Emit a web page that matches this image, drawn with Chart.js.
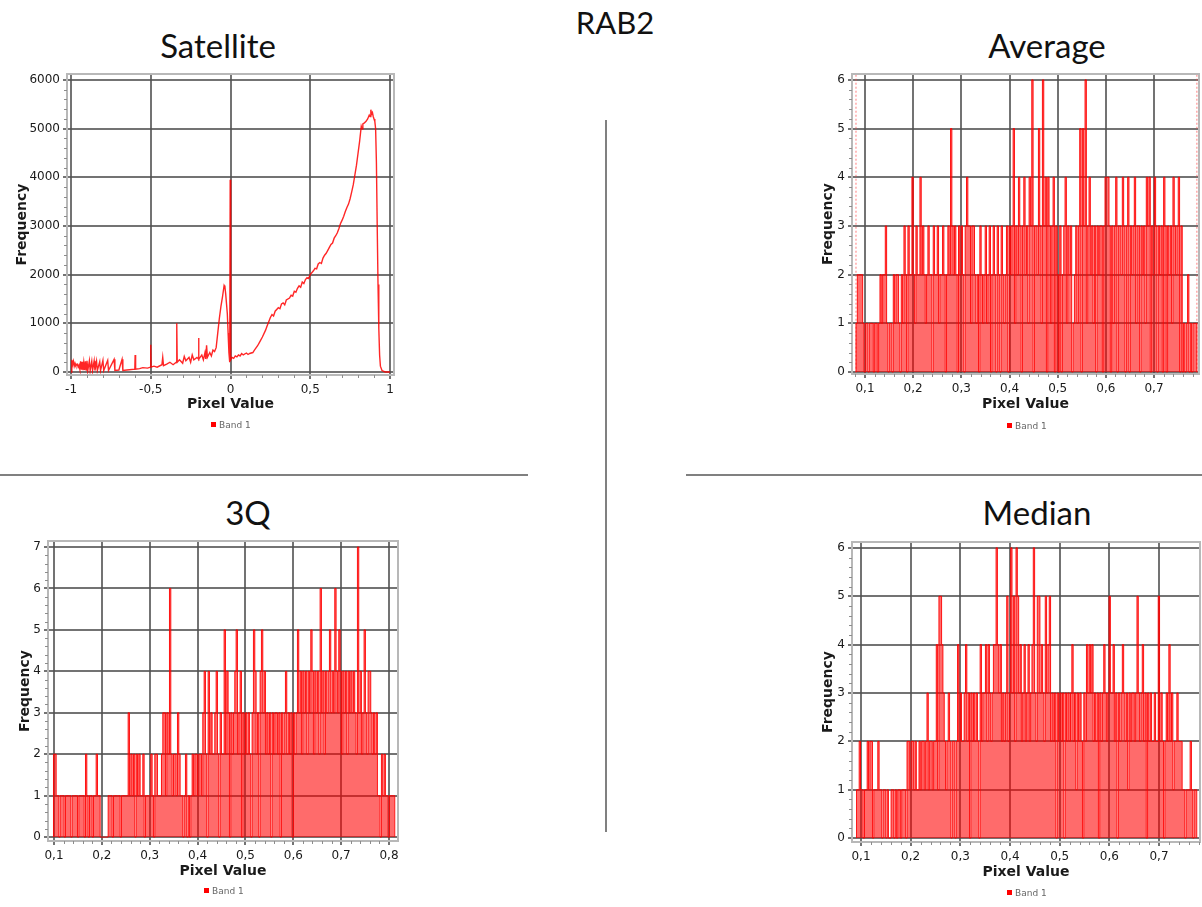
<!DOCTYPE html>
<html>
<head>
<meta charset="utf-8">
<title>RAB2</title>
<script src="https://cdn.jsdelivr.net/npm/chart.js@4.4.1/dist/chart.umd.min.js"></script>
<style>
  body { margin: 0; background: #fff; }
  #page { position: relative; width: 1202px; height: 907px; overflow: hidden; }
  .title { position: absolute; transform: translate(-50%, -50%); font-family: Lato, "Open Sans", sans-serif; font-size: 33px; line-height: 1; color: #111; white-space: nowrap; }
  canvas { position: absolute; }
  .sep { position: absolute; background: #808080; }
  .legend { position: absolute; font-family: "DejaVu Sans", sans-serif; font-size: 9px; color: #666; line-height: 10px; white-space: nowrap; }
  .legend i { display: inline-block; width: 5px; height: 5px; background: #f00; margin-right: 3px; vertical-align: 1px; }
</style>
</head>
<body>
<div id="page">
  <div class="title" style="left:615px;top:22px;font-size:31px">RAB2</div>
  <div class="title" style="left:218px;top:45px">Satellite</div>
  <div class="title" style="left:1047px;top:45px">Average</div>
  <div class="title" style="left:248px;top:512px">3Q</div>
  <div class="title" style="left:1037px;top:512px">Median</div>

  <div class="sep" style="left:605px;top:120px;width:2px;height:712px"></div>
  <div class="sep" style="left:0;top:474px;width:528px;height:2px"></div>
  <div class="sep" style="left:686px;top:474px;width:516px;height:2px"></div>

  <canvas id="satellite" width="400" height="380" style="left:0;top:60px"></canvas>
  <canvas id="average" width="412" height="380" style="left:790px;top:60px"></canvas>
  <canvas id="q3" width="410" height="387" style="left:0;top:520px"></canvas>
  <canvas id="median" width="412" height="387" style="left:790px;top:520px"></canvas>

  <div class="legend" style="left:211px;top:420px"><i></i>Band 1</div>
  <div class="legend" style="left:1007px;top:421px"><i></i>Band 1</div>
  <div class="legend" style="left:204px;top:886px"><i></i>Band 1</div>
  <div class="legend" style="left:1007px;top:888px"><i></i>Band 1</div>
</div>

<script>
// satellite histogram, [pixel value, frequency]
var satCurve = [
  [-1, 0], [-0.995, 250], [-0.99, 150], [-0.985, 220], [-0.98, 120], [-0.975, 180], [-0.97, 130],
  [-0.96, 160], [-0.955, 100], [-0.95, 140], [-0.945, 60], [-0.94, 220], [-0.935, 50], [-0.93, 210],
  [-0.925, 40], [-0.92, 200], [-0.915, 40], [-0.91, 220], [-0.905, 40], [-0.9, 230], [-0.895, 30],
  [-0.885, 230], [-0.88, 30], [-0.87, 220], [-0.865, 30], [-0.855, 230], [-0.85, 30], [-0.84, 220],
  [-0.835, 30], [-0.82, 210], [-0.815, 30], [-0.8, 240], [-0.795, 30], [-0.77, 240], [-0.765, 30],
  [-0.73, 260], [-0.725, 30], [-0.7, 40], [-0.68, 260], [-0.675, 30], [-0.65, 40], [-0.6, 60],
  [-0.598, 350], [-0.595, 60], [-0.57, 70], [-0.55, 90], [-0.52, 80], [-0.502, 100], [-0.5, 560],
  [-0.498, 100], [-0.48, 120], [-0.46, 100], [-0.43, 150], [-0.425, 300], [-0.42, 130], [-0.4, 160],
  [-0.38, 200], [-0.36, 150], [-0.34, 200], [-0.337, 1000], [-0.334, 200], [-0.32, 250], [-0.3, 180],
  [-0.29, 320], [-0.28, 230], [-0.26, 300], [-0.25, 200], [-0.24, 350], [-0.23, 250], [-0.21, 300],
  [-0.202, 270], [-0.2, 700], [-0.198, 260], [-0.18, 350], [-0.17, 250], [-0.16, 400], [-0.155, 270],
  [-0.15, 550], [-0.145, 300], [-0.13, 400], [-0.12, 330], [-0.11, 450], [-0.1, 420], [-0.09, 500],
  [-0.08, 800], [-0.07, 1100], [-0.06, 1350], [-0.05, 1550], [-0.04, 1780], [-0.035, 1750],
  [-0.03, 1600], [-0.02, 1200], [-0.015, 800], [-0.01, 400], [-0.005, 200], [-0.002, 3950],
  [0, 3950], [0.002, 250], [0.01, 300], [0.02, 280], [0.03, 330], [0.04, 310], [0.05, 350],
  [0.06, 330], [0.07, 380], [0.08, 350], [0.1, 390], [0.11, 360], [0.12, 380], [0.14, 400],
  [0.15, 450], [0.17, 540], [0.18, 600], [0.2, 720], [0.22, 860], [0.23, 950], [0.25, 1120],
  [0.26, 1180], [0.27, 1150], [0.28, 1250], [0.3, 1320], [0.31, 1300], [0.32, 1400], [0.33, 1420],
  [0.34, 1380], [0.35, 1480], [0.37, 1520], [0.38, 1580], [0.39, 1560], [0.4, 1660], [0.41, 1640],
  [0.42, 1720], [0.43, 1770], [0.44, 1740], [0.45, 1850], [0.46, 1820], [0.47, 1900], [0.48, 1940],
  [0.49, 1920], [0.5, 2000], [0.52, 2080], [0.53, 2130], [0.54, 2120], [0.55, 2220], [0.56, 2250],
  [0.57, 2230], [0.58, 2340], [0.59, 2400], [0.6, 2440], [0.61, 2500], [0.62, 2560], [0.63, 2620],
  [0.64, 2650], [0.65, 2750], [0.66, 2800], [0.67, 2860], [0.68, 2950], [0.69, 3050], [0.7, 3120],
  [0.71, 3200], [0.72, 3300], [0.73, 3380], [0.74, 3450], [0.75, 3560], [0.76, 3700], [0.77, 3850],
  [0.78, 4050], [0.79, 4250], [0.8, 4500], [0.81, 4750], [0.82, 5050], [0.825, 5000], [0.83, 5100],
  [0.84, 5120], [0.85, 5150], [0.86, 5200], [0.87, 5280], [0.875, 5250], [0.88, 5390], [0.885, 5300],
  [0.89, 5330], [0.895, 5250], [0.9, 5200], [0.905, 5150], [0.91, 5000], [0.915, 4300], [0.92, 3000],
  [0.925, 1800], [0.93, 900], [0.935, 350], [0.94, 120], [0.95, 30], [0.97, 0], [1, 0]
];

// 256-bin histograms, min/max of each band
var avgMin = 0.0813, avgMax = 0.789;
var avgCounts = [
  1,2,2,2,2,1,0,1,1,0,1,1,1,0,1,1,
  0,1,2,1,2,2,3,1,0,1,1,0,2,1,2,2,
  1,0,2,1,3,2,0,3,2,2,4,2,1,3,2,2,
  4,2,3,2,1,2,3,2,2,0,3,2,2,3,1,2,
  2,3,2,0,2,3,2,5,3,2,3,2,0,3,2,3,
  2,0,3,4,3,3,1,3,3,2,1,2,0,3,2,1,
  2,3,1,2,3,0,2,3,2,0,3,2,0,3,2,1,
  2,3,0,3,2,3,5,1,3,2,4,3,0,3,4,2,
  3,1,4,3,6,0,3,3,2,5,3,1,6,3,4,0,
  4,3,1,3,4,0,3,2,0,3,0,2,3,4,1,3,
  2,3,0,1,2,3,1,3,5,0,5,3,6,1,3,4,
  2,3,1,3,0,3,2,3,3,0,3,4,4,4,3,0,
  3,1,3,4,0,3,3,2,4,3,0,3,4,0,3,2,
  3,4,1,3,3,0,3,2,3,1,4,3,4,0,3,2,
  4,3,0,3,2,3,0,4,3,0,3,2,3,1,4,3,
  2,3,4,0,3,0,1,0,1,2,0,1,0,1,1,1
];

var q3Min = 0.099, q3Max = 0.812;
var q3Counts = [
  2,2,1,1,0,1,1,1,0,1,1,1,1,0,1,1,
  1,1,0,1,1,1,1,0,2,1,0,1,1,0,1,1,
  2,1,1,0,0,0,0,0,0,1,1,1,0,1,1,1,
  1,1,0,1,1,1,1,1,3,1,2,1,2,0,2,1,
  2,1,1,2,0,1,1,1,1,2,1,0,2,2,1,1,
  1,2,3,3,1,3,2,6,2,1,2,2,1,3,2,1,
  1,0,1,2,0,1,0,1,2,1,2,2,1,2,2,1,
  3,4,2,0,4,2,3,2,2,3,4,2,0,3,2,2,
  5,2,4,3,0,3,2,3,4,5,2,3,4,0,3,2,
  3,2,3,2,0,3,5,4,2,3,0,4,5,3,4,2,
  3,2,3,0,3,2,3,3,2,3,0,3,2,3,4,2,
  3,2,3,0,3,2,3,5,3,4,2,4,3,4,2,4,
  3,5,4,2,4,3,4,2,6,3,4,2,4,3,4,5,
  3,4,3,6,4,3,5,4,2,4,3,4,2,4,3,4,
  3,4,3,2,7,3,4,2,3,5,3,2,4,4,3,2,
  3,2,3,1,1,0,2,1,2,1,1,0,1,1,1,1
];

var medMin = 0.091, medMax = 0.776;
var medCounts = [
  1,1,2,1,1,0,1,1,2,1,2,2,0,1,1,1,
  2,1,1,0,1,1,0,1,0,0,1,1,0,1,0,1,
  1,0,1,1,1,0,2,2,1,2,2,1,2,1,1,2,
  1,2,2,1,2,3,1,2,2,1,2,2,4,1,5,5,
  4,3,2,1,2,3,2,0,2,2,0,2,4,2,3,2,
  2,3,4,2,3,0,3,2,3,2,3,2,0,4,2,3,
  3,4,2,4,3,2,3,4,4,6,4,3,4,2,3,2,
  3,5,2,3,6,3,5,2,6,5,3,4,2,3,4,2,
  3,4,2,3,4,6,3,2,5,5,3,4,3,2,5,3,
  4,5,2,3,2,3,0,3,2,3,2,3,0,3,2,3,
  2,3,4,2,3,1,3,2,3,2,0,3,2,4,3,4,
  3,4,2,3,2,3,0,3,2,3,4,3,2,3,5,3,
  3,4,2,3,0,3,2,3,4,3,2,3,1,3,2,3,
  3,2,3,5,3,2,3,4,2,3,0,3,2,3,2,2,
  3,2,2,5,2,3,2,0,2,3,2,4,2,3,1,2,
  2,3,2,2,2,1,1,0,1,1,1,2,1,0,1,1
];

// axis ticks
var satXTicks = [-1, -0.5, 0, 0.5, 1];
var satYTicks = [0, 1000, 2000, 3000, 4000, 5000, 6000];
var avgXTicks = [0.1, 0.2, 0.3, 0.4, 0.5, 0.6, 0.7];
var avgYTicks = [0, 1, 2, 3, 4, 5, 6];
var q3XTicks = [0.1, 0.2, 0.3, 0.4, 0.5, 0.6, 0.7, 0.8];
var q3YTicks = [0, 1, 2, 3, 4, 5, 6, 7];
var medXTicks = [0.1, 0.2, 0.3, 0.4, 0.5, 0.6, 0.7];
var medYTicks = [0, 1, 2, 3, 4, 5, 6];

var tickFont = { family: "DejaVu Sans", size: 12 };
var axisTitleFont = { family: "DejaVu Sans", size: 14, weight: "bold" };
var gridColor = "rgba(80,80,80,0.8)";

function comma(v) {
  return String(Math.round(v * 100) / 100).replace(".", ",");
}

function histogramPoints(counts, lo, hi) {
  var w = (hi - lo) / counts.length;
  var pts = [{ x: lo, y: 0 }];
  counts.forEach(function(c, i) {
    pts.push({ x: lo + i * w, y: c });
  });
  pts.push({ x: hi, y: 0 });
  return pts;
}

function histogramDataset(counts, lo, hi) {
  return {
    data: histogramPoints(counts, lo, hi),
    stepped: "before",
    borderColor: "rgba(255,0,0,0.9)",
    backgroundColor: "rgba(255,0,0,0.58)",
    borderWidth: 1,
    fill: "origin",
    pointRadius: 0
  };
}

function boundLine(x) {
  return {
    data: [{ x: x, y: -1 }, { x: x, y: 8 }],
    borderColor: "rgba(255,70,70,0.7)",
    borderDash: [2, 2],
    borderWidth: 1,
    fill: false,
    pointRadius: 0
  };
}

// light frame round the plot and the small minor ticks
var framePlugin = {
  id: "frame",
  afterDraw: function(chart, args, opts) {
    var ctx = chart.ctx, a = chart.chartArea;
    ctx.save();
    ctx.strokeStyle = "#b8b8b8";
    ctx.lineWidth = 2;
    ctx.strokeRect(a.left - 1, a.top - 1, a.right - a.left + 2, a.bottom - a.top + 2);
    ctx.strokeStyle = "#8c8c8c";
    ctx.lineWidth = 1;
    drawMinor(ctx, chart.scales.x, opts.minorX, true, a);
    drawMinor(ctx, chart.scales.y, opts.minorY, false, a);
    ctx.restore();
  }
};

function drawMinor(ctx, scale, step, horizontal, a) {
  var k0 = Math.ceil(scale.min / step - 1e-9);
  var k1 = Math.floor(scale.max / step + 1e-9);
  for (var k = k0; k <= k1; k++) {
    if (k % 5 === 0) continue;
    var p = Math.round(scale.getPixelForValue(k * step)) + 0.5;
    ctx.beginPath();
    if (horizontal) {
      ctx.moveTo(p, a.bottom + 1);
      ctx.lineTo(p, a.bottom + 4);
    } else {
      ctx.moveTo(a.left - 4, p);
      ctx.lineTo(a.left - 1, p);
    }
    ctx.stroke();
  }
}

function makePanel(id, p) {
  new Chart(document.getElementById(id), {
    type: "line",
    data: { datasets: p.datasets },
    options: {
      responsive: false,
      animation: false,
      events: [],
      layout: { padding: { left: p.pad[0], top: p.pad[1], right: p.pad[2], bottom: p.pad[3] } },
      plugins: {
        legend: { display: false },
        tooltip: { enabled: false },
        frame: { minorX: p.minorX, minorY: p.minorY }
      },
      scales: {
        x: {
          type: "linear",
          min: p.xRange[0],
          max: p.xRange[1],
          afterBuildTicks: function(s) {
            s.ticks = p.xTicks.map(function(v) { return { value: v }; });
          },
          afterFit: function(s) { s.height = p.xHeight; },
          ticks: { font: tickFont, color: "#1a1a1a", padding: 4, maxRotation: 0, autoSkip: false, callback: comma },
          grid: { color: gridColor, lineWidth: 2, tickLength: 5 },
          border: { display: false },
          title: { display: true, text: "Pixel Value", font: axisTitleFont, color: "#1a1a1a", padding: 0 }
        },
        y: {
          type: "linear",
          min: p.yRange[0],
          max: p.yRange[1],
          afterBuildTicks: function(s) {
            s.ticks = p.yTicks.map(function(v) { return { value: v }; });
          },
          afterFit: function(s) { s.width = p.yWidth; },
          ticks: { font: tickFont, color: "#1a1a1a", padding: 3, autoSkip: false, callback: comma },
          grid: { color: gridColor, lineWidth: 2, tickLength: 5 },
          border: { display: false },
          title: { display: true, text: "Frequency", font: axisTitleFont, color: "#1a1a1a", padding: 0 }
        }
      }
    },
    plugins: [framePlugin]
  });
}

makePanel("satellite", {
  datasets: [{
    data: satCurve.map(function(d) { return { x: d[0], y: d[1] }; }),
    borderColor: "rgba(255,0,0,0.85)",
    borderWidth: 1.4,
    fill: false,
    pointRadius: 0
  }],
  pad: [14, 15, 7, 27], yWidth: 54, xHeight: 39,
  xRange: [-1.019, 1.019], yRange: [-41, 6103],
  xTicks: satXTicks, yTicks: satYTicks, minorX: 0.1, minorY: 200
});

makePanel("average", {
  datasets: [histogramDataset(avgCounts, avgMin, avgMax), boundLine(avgMin), boundLine(avgMax)],
  pad: [30, 15, 4, 27], yWidth: 33, xHeight: 40,
  xRange: [0.0751, 0.7913], yRange: [-0.02, 6.1],
  xTicks: avgXTicks, yTicks: avgYTicks, minorX: 0.02, minorY: 0.2
});

makePanel("q3", {
  datasets: [histogramDataset(q3Counts, q3Min, q3Max)],
  pad: [17, 22, 13, 27], yWidth: 32, xHeight: 40,
  xRange: [0.0896, 0.8167], yRange: [-0.07, 7.12],
  xTicks: q3XTicks, yTicks: q3YTicks, minorX: 0.02, minorY: 0.2
});

makePanel("median", {
  datasets: [histogramDataset(medCounts, medMin, medMax)],
  pad: [30, 23, 3, 26], yWidth: 33, xHeight: 40,
  xRange: [0.0839, 0.7805], yRange: [-0.06, 6.1],
  xTicks: medXTicks, yTicks: medYTicks, minorX: 0.02, minorY: 0.2
});
</script>
</body>
</html>
